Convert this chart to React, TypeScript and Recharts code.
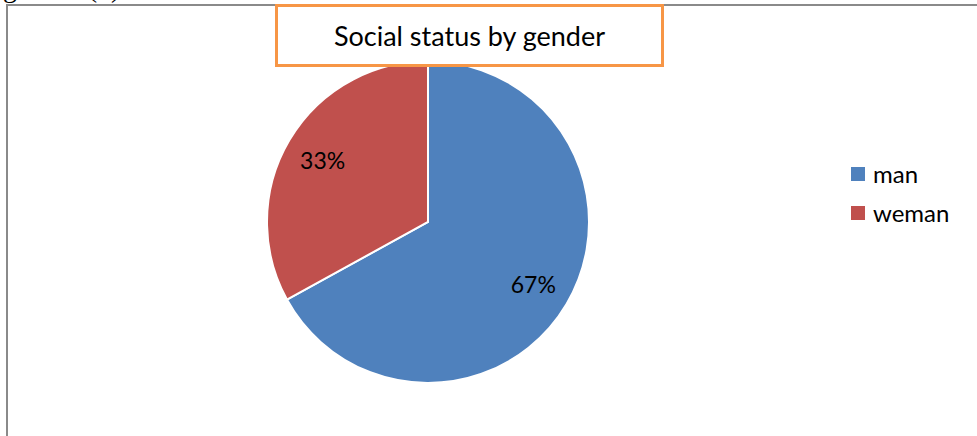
import React from 'react';
import { PieChart, Pie, Cell, Legend } from 'recharts';

const categories = ['man', 'weman'];
const shares = [67, 33];
const colors = ['#4F81BD', '#C0504D'];

const data = categories.map((name, i) => ({ name, value: shares[i] }));

const FONT = 'Lato, "Open Sans", sans-serif';
const RAD = Math.PI / 180;

// percent label inside each slice, about 3/4 of the way out
const renderLabel = (props: any) => {
  const { cx, cy, midAngle, outerRadius, percent } = props;
  const r = outerRadius * 0.76;
  const x = cx + r * Math.cos(-midAngle * RAD);
  const y = cy + r * Math.sin(-midAngle * RAD);
  return (
    <text x={x} y={y} fill="#000" fontSize={23} fontFamily={FONT} textAnchor="middle" dominantBaseline="central">
      {`${Math.round(percent * 100)}%`}
    </text>
  );
};

const renderLegend = (props: any) => {
  const { payload } = props;
  return (
    <div>
      {payload.map((entry: any, i: number) => (
        <div key={`leg-${i}`} style={{ display: 'flex', alignItems: 'center', height: 39 }}>
          <span style={{ display: 'inline-block', width: 14, height: 14, background: entry.color, marginRight: 8 }} />
          <span style={{ fontFamily: FONT, fontSize: 24, color: '#000' }}>{entry.value}</span>
        </div>
      ))}
    </div>
  );
};

export default function App() {
  return (
    <div style={{ position: 'relative', width: 977, height: 436, overflow: 'hidden', background: '#fff' }}>
      <style>{'body{margin:0}'}</style>
      {/* caption of the document, cut off at the top */}
      <div style={{ position: 'absolute', left: 3, top: -28, fontFamily: '"Liberation Serif", serif', fontSize: 28, color: '#000', whiteSpace: 'pre' }}>
        {'gure     (1)'}
      </div>
      <div style={{ position: 'absolute', left: 6, top: 4, width: 1100, height: 600, border: '2px solid #8a8a8a', boxSizing: 'border-box' }} />
      <div style={{ position: 'absolute', left: 0, top: 0 }}>
        <PieChart width={977} height={436} margin={{ top: 0, right: 0, bottom: 0, left: 0 }}>
          <Pie
            data={data}
            dataKey="value"
            nameKey="name"
            cx={428}
            cy={222}
            outerRadius={161}
            startAngle={90}
            endAngle={-270}
            stroke="#fff"
            strokeWidth={2}
            label={renderLabel}
            labelLine={false}
            isAnimationActive={false}
          >
            {data.map((d, i) => (
              <Cell key={`cell-${i}`} fill={colors[i]} />
            ))}
          </Pie>
          <Legend
            layout="vertical"
            content={renderLegend}
            wrapperStyle={{ left: 851, top: 154, width: 120 }}
          />
        </PieChart>
      </div>
      <div style={{ position: 'absolute', left: 275, top: 4, width: 389, height: 63, border: '3px solid #F79646', boxSizing: 'border-box', background: '#fff', display: 'flex', alignItems: 'center', justifyContent: 'center', fontFamily: FONT, fontSize: 27, color: '#000' }}>
        Social status by gender
      </div>
    </div>
  );
}
